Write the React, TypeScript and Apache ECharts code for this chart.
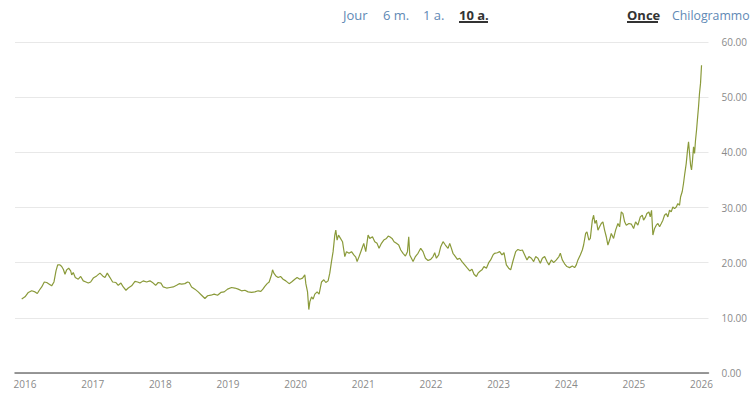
import React, { useEffect, useRef } from "react";
import * as echarts from "echarts";

// Silver price per ounce, [decimal year, price]
const silver2016_2017: [number, number][] = [
  [2015.951, 13.4], [2016.0, 13.8], [2016.049, 14.6], [2016.099, 14.9], [2016.148, 14.7], [2016.182, 14.4],
  [2016.211, 15.0], [2016.247, 15.6], [2016.285, 16.5], [2016.321, 16.4], [2016.359, 16.1], [2016.394, 15.8],
  [2016.428, 16.5], [2016.458, 18.5], [2016.483, 19.6], [2016.517, 19.6], [2016.542, 19.3], [2016.566, 18.8],
  [2016.591, 17.9], [2016.616, 18.7], [2016.645, 19.0], [2016.675, 18.5], [2016.69, 17.8], [2016.713, 18.2],
  [2016.743, 17.3], [2016.787, 17.0], [2016.823, 17.5], [2016.861, 16.7], [2016.901, 16.5], [2016.935, 16.3],
  [2016.97, 16.5], [2017.009, 17.2], [2017.059, 17.6], [2017.108, 18.1], [2017.148, 17.6], [2017.182, 17.3],
  [2017.216, 18.1], [2017.256, 17.3], [2017.295, 16.5], [2017.344, 16.4], [2017.378, 15.9], [2017.418, 16.3],
  [2017.452, 15.6], [2017.492, 15.0], [2017.526, 15.4], [2017.576, 15.8], [2017.625, 16.6], [2017.665, 16.5],
  [2017.699, 16.3], [2017.747, 16.7], [2017.798, 16.5], [2017.846, 16.7], [2017.895, 16.3], [2017.931, 15.9],
  [2017.969, 16.4],
];

const silver2018_2019: [number, number][] = [
  [2018.009, 16.3], [2018.043, 15.6], [2018.093, 15.4], [2018.142, 15.5], [2018.191, 15.6], [2018.241, 15.9],
  [2018.279, 16.2], [2018.315, 16.1], [2018.363, 16.2], [2018.403, 16.5], [2018.427, 16.4], [2018.462, 15.6],
  [2018.511, 15.2], [2018.56, 14.7], [2018.61, 14.1], [2018.659, 13.5], [2018.699, 14.0], [2018.747, 14.1],
  [2018.796, 14.3], [2018.846, 14.1], [2018.895, 14.6], [2018.944, 14.7], [2018.994, 15.2], [2019.053, 15.5],
  [2019.102, 15.4], [2019.151, 15.2], [2019.201, 14.9], [2019.25, 15.0], [2019.298, 14.7], [2019.349, 14.6],
  [2019.397, 14.7], [2019.446, 14.9], [2019.486, 14.8], [2019.516, 15.2], [2019.545, 15.7], [2019.579, 16.2],
  [2019.609, 16.5], [2019.644, 17.8], [2019.659, 18.7], [2019.678, 18.1], [2019.708, 17.6], [2019.742, 17.3],
  [2019.777, 17.5], [2019.815, 17.0], [2019.855, 16.7], [2019.904, 16.2], [2019.94, 16.5], [2019.988, 17.0],
];

const silver2020_2021: [number, number][] = [
  [2020.022, 17.3], [2020.062, 17.0], [2020.102, 17.2], [2020.136, 17.8], [2020.151, 16.2], [2020.176, 14.7],
  [2020.195, 11.5], [2020.21, 12.9], [2020.235, 13.8], [2020.259, 13.4], [2020.284, 14.3], [2020.318, 14.7],
  [2020.347, 14.3], [2020.383, 16.5], [2020.417, 16.9], [2020.446, 16.4], [2020.48, 16.7], [2020.505, 18.1],
  [2020.53, 20.2], [2020.554, 22.0], [2020.579, 25.0], [2020.594, 25.9], [2020.613, 24.1], [2020.634, 25.0],
  [2020.663, 24.4], [2020.693, 23.8], [2020.712, 22.3], [2020.727, 21.1], [2020.752, 22.0], [2020.79, 21.7],
  [2020.826, 22.0], [2020.86, 21.4], [2020.889, 21.0], [2020.909, 20.2], [2020.938, 21.1], [2020.973, 22.3],
  [2021.007, 23.5], [2021.037, 22.0], [2021.071, 25.0], [2021.096, 24.4], [2021.136, 24.7], [2021.17, 23.8],
  [2021.204, 23.5], [2021.233, 22.6], [2021.269, 23.5], [2021.303, 24.1], [2021.343, 24.4], [2021.369, 24.8],
  [2021.391, 24.7], [2021.425, 24.4], [2021.455, 23.8], [2021.49, 23.5], [2021.524, 23.2], [2021.554, 22.3],
  [2021.588, 21.7], [2021.623, 21.2], [2021.653, 22.0], [2021.672, 24.7], [2021.687, 21.4], [2021.712, 20.8],
  [2021.736, 20.2], [2021.771, 21.1], [2021.809, 21.7], [2021.849, 22.6], [2021.883, 22.0], [2021.919, 20.8],
  [2021.957, 20.4], [2021.997, 20.6],
];

const silver2022_2023: [number, number][] = [
  [2022.031, 21.1], [2022.056, 21.8], [2022.081, 20.8], [2022.115, 21.4], [2022.145, 22.9], [2022.179, 23.8],
  [2022.214, 23.2], [2022.253, 22.6], [2022.278, 23.5], [2022.303, 22.6], [2022.326, 21.7], [2022.362, 21.1],
  [2022.391, 20.6], [2022.425, 20.8], [2022.459, 20.2], [2022.499, 19.6], [2022.539, 19.0], [2022.573, 18.5],
  [2022.607, 18.8], [2022.637, 17.9], [2022.672, 17.5], [2022.696, 18.1], [2022.721, 18.4], [2022.755, 18.7],
  [2022.784, 19.3], [2022.82, 19.0], [2022.854, 20.0], [2022.883, 20.5], [2022.918, 21.4], [2022.942, 21.7],
  [2022.982, 21.8], [2023.016, 22.0], [2023.05, 21.4], [2023.08, 21.8], [2023.115, 19.6], [2023.149, 19.0],
  [2023.179, 18.7], [2023.213, 20.3], [2023.253, 22.0], [2023.286, 22.4], [2023.322, 22.2], [2023.352, 22.3],
  [2023.386, 21.4], [2023.42, 20.5], [2023.449, 21.1], [2023.485, 20.8], [2023.519, 20.2], [2023.548, 21.1],
  [2023.582, 20.8], [2023.617, 19.9], [2023.647, 20.8], [2023.681, 21.1], [2023.715, 20.2], [2023.744, 19.6],
  [2023.78, 20.5], [2023.814, 20.0], [2023.854, 20.5], [2023.892, 21.1], [2023.913, 21.7], [2023.942, 20.5],
  [2023.976, 19.8],
];

const silver2024_2025: [number, number][] = [
  [2024.01, 19.3], [2024.05, 19.1], [2024.09, 19.4], [2024.124, 19.1], [2024.149, 19.6], [2024.173, 20.5],
  [2024.208, 21.4], [2024.238, 22.3], [2024.257, 23.2], [2024.287, 25.3], [2024.306, 25.6], [2024.335, 24.1],
  [2024.356, 24.4], [2024.386, 27.7], [2024.405, 28.6], [2024.424, 27.1], [2024.445, 27.7], [2024.469, 25.9],
  [2024.493, 26.5], [2024.518, 27.1], [2024.542, 27.4], [2024.567, 25.9], [2024.592, 24.7], [2024.616, 23.2],
  [2024.641, 24.1], [2024.666, 25.3], [2024.7, 24.4], [2024.73, 25.9], [2024.764, 27.1], [2024.789, 26.5],
  [2024.814, 29.2], [2024.838, 28.9], [2024.863, 27.4], [2024.888, 26.8], [2024.926, 27.1], [2024.962, 27.0],
  [2024.996, 26.2], [2025.025, 27.4], [2025.059, 26.8], [2025.095, 28.3], [2025.124, 28.6], [2025.143, 27.7],
  [2025.173, 28.3], [2025.192, 28.9], [2025.222, 29.2], [2025.242, 28.3], [2025.261, 29.5], [2025.281, 25.0],
  [2025.306, 26.2], [2025.331, 26.8], [2025.355, 27.1], [2025.38, 26.5], [2025.405, 27.1], [2025.429, 27.7],
  [2025.453, 28.6], [2025.478, 28.9], [2025.502, 28.3], [2025.527, 29.5], [2025.552, 29.2], [2025.576, 30.1],
  [2025.601, 29.8], [2025.626, 30.1], [2025.65, 30.7], [2025.675, 30.4], [2025.69, 31.9], [2025.715, 32.9],
  [2025.734, 34.4], [2025.753, 36.2], [2025.774, 38.0], [2025.793, 40.4], [2025.808, 41.9], [2025.823, 39.8],
  [2025.838, 37.7], [2025.852, 36.8], [2025.867, 38.6], [2025.882, 41.0], [2025.897, 39.8], [2025.911, 42.2],
  [2025.926, 44.0], [2025.941, 46.2], [2025.956, 48.3], [2025.97, 50.7], [2025.985, 52.5], [2026.0, 55.8],
];

const yearLabels = [2016, 2017, 2018, 2019, 2020, 2021, 2022, 2023, 2024, 2025, 2026];
const rangeButtons = ["Jour", "6 m.", "1 a.", "10 a."];
const unitButtons = ["Once", "Chilogrammo"];
const activeRange = "10 a.";
const activeUnit = "Once";

export default function App() {
  const ref = useRef<HTMLDivElement>(null);

  useEffect(() => {
    document.body.style.margin = "0";
    const chart = echarts.init(ref.current!, null, { renderer: "svg" });
    const data = [
      ...silver2016_2017,
      ...silver2018_2019,
      ...silver2020_2021,
      ...silver2022_2023,
      ...silver2024_2025,
    ];

    const rangeX = [343, 383, 423, 459];
    const unitX = [627, 672];
    const btnColor = "#6189b5";
    const activeColor = "#333333";
    const graphics: any[] = [];
    const addBtn = (label: string, x: number, active: boolean, size: number) => {
      graphics.push({
        type: "text",
        x,
        y: 15,
        style: {
          text: label,
          fill: active ? activeColor : btnColor,
          fontFamily: "Open Sans",
          fontSize: size,
          fontWeight: active ? "bold" : "normal",
          verticalAlign: "middle",
          textVerticalAlign: "middle",
        },
      });
    };
    rangeButtons.forEach((b, i) => addBtn(b, rangeX[i], b === activeRange, 13));
    unitButtons.forEach((b, i) => addBtn(b, unitX[i], b === activeUnit, b === activeUnit ? 13 : 12.3));
    graphics.push({ type: "rect", shape: { x: 459, y: 21, width: 29, height: 2 }, style: { fill: activeColor } });
    graphics.push({ type: "rect", shape: { x: 627, y: 21, width: 31, height: 2 }, style: { fill: activeColor } });

    chart.setOption({
      animation: false,
      grid: { left: 15, right: 41, top: 42, bottom: 20, containLabel: false },
      xAxis: {
        type: "value",
        min: 2015.852,
        max: 2026.103,
        axisLine: { show: true, lineStyle: { color: "#777777", width: 1.5 } },
        axisTick: { show: false },
        splitLine: { show: false },
        axisLabel: {
          customValues: yearLabels,
          formatter: (v: number) => String(Math.round(v)),
          margin: 6,
          fontSize: 10,
          fontFamily: "Open Sans",
          color: "#8a8a8a",
        },
      },
      yAxis: {
        type: "value",
        position: "right",
        min: 0,
        max: 60,
        interval: 10,
        axisLine: { show: false },
        axisTick: { show: false },
        splitLine: { lineStyle: { color: "#e8e8e8", width: 1 } },
        axisLabel: {
          formatter: (v: number) => v.toFixed(2),
          margin: 13,
          fontSize: 10,
          fontFamily: "Open Sans",
          color: "#8a8a8a",
        },
      },
      series: [
        {
          type: "line",
          data,
          showSymbol: false,
          symbol: "none",
          silent: true,
          lineStyle: { color: "#8a9a3a", width: 1.2 },
        },
      ],
      graphic: graphics,
    });
    return () => chart.dispose();
  }, []);

  return <div ref={ref} style={{ width: 750, height: 393 }} />;
}
